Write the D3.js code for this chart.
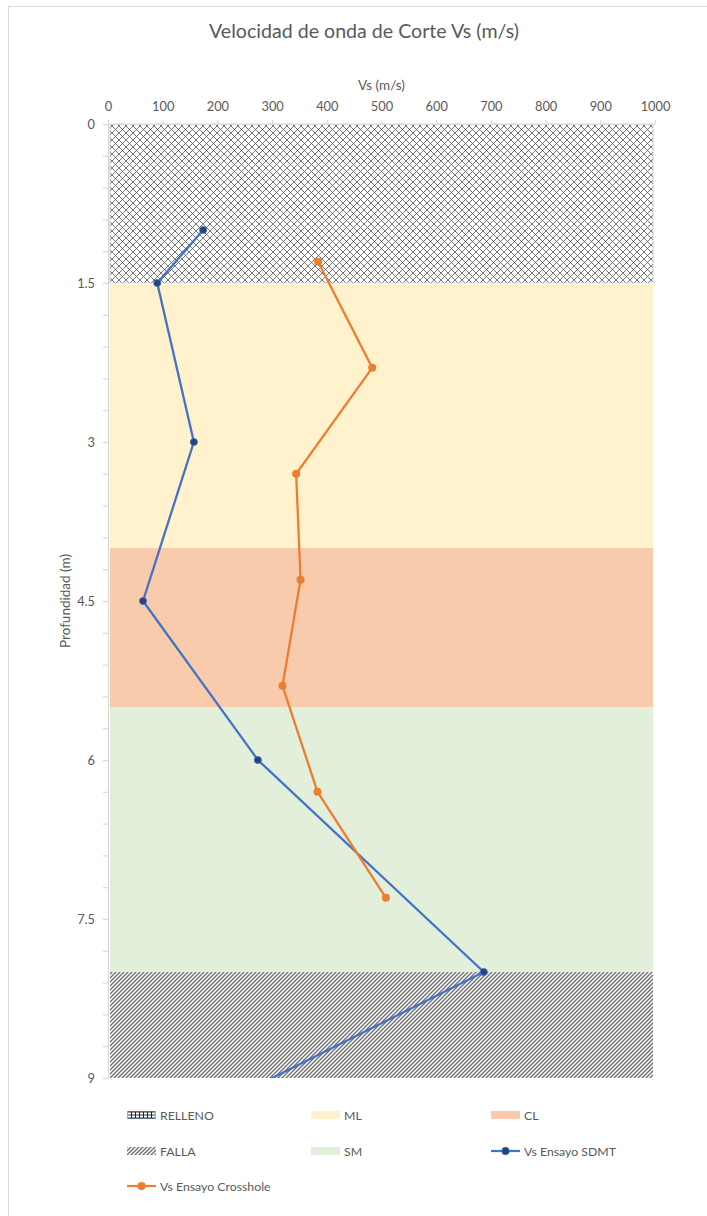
<!DOCTYPE html>
<html><head><meta charset="utf-8">
<script src="https://cdn.jsdelivr.net/npm/d3@7"></script>
<style>
body{margin:0;background:#fff}
svg{display:block}
text{font-family:Lato,'Open Sans',sans-serif;fill:#595959}
</style>
</head><body>
<svg id="chart" width="707" height="1216"></svg>
<script>
// ---- data ----
const layerNames = ["RELLENO", "ML", "CL", "SM", "FALLA"];
const layerTop = [0, 1.5, 4.0, 5.5, 8.0];
const layerBottom = [1.5, 4.0, 5.5, 8.0, 9.0];

const sdmtDepth = [1.0, 1.5, 3.0, 4.5, 6.0, 8.0, 9.5];
const sdmtVs = [174, 90, 157, 64, 274, 687, 107];

const crossDepth = [1.3, 2.3, 3.3, 4.3, 5.3, 6.3, 7.3];
const crossVs = [384, 483, 344, 352, 319, 383, 508];

const xTicks = [0, 100, 200, 300, 400, 500, 600, 700, 800, 900, 1000];
const yTicks = [0, 1.5, 3, 4.5, 6, 7.5, 9];

const titleText = "Velocidad de onda de Corte Vs (m/s)";
const xTitle = "Vs (m/s)";
const yTitle = "Profundidad (m)";
const seriesNames = ["Vs Ensayo SDMT", "Vs Ensayo Crosshole"];

// ---- styles ----
const layerFill = {RELLENO: "url(#pRelleno)", ML: "#FFF2CC", CL: "#F8CBAD", SM: "#E2EFDA", FALLA: "url(#pFalla)"};
const blue = "#4472C4", blueDark = "#264478", orange = "#ED7D31";

const svg = d3.select("#chart");
const W = 707, H = 1216;

// frame
svg.append("rect").attr("x", 8.5).attr("y", 6.5).attr("width", W).attr("height", H)
  .attr("fill", "#fff").attr("stroke", "#D9D9D9");

const defs = svg.append("defs");
const pr = defs.append("pattern").attr("id", "pRelleno").attr("patternUnits", "userSpaceOnUse")
  .attr("width", 7).attr("height", 7);
pr.append("rect").attr("width", 7).attr("height", 7).attr("fill", "#fff");
pr.append("path").attr("d", "M0,0L7,7M7,0L0,7").attr("stroke", "#4a4a4a").attr("stroke-width", 0.75).attr("fill", "none");

const pf = defs.append("pattern").attr("id", "pFalla").attr("patternUnits", "userSpaceOnUse")
  .attr("width", 4).attr("height", 4);
pf.append("rect").attr("width", 4).attr("height", 4).attr("fill", "#fff");
pf.append("path").attr("d", "M-1,1L1,-1M0,4L4,0M3,5L5,3").attr("stroke", "#707070").attr("stroke-width", 1.4);

const pl = defs.append("pattern").attr("id", "pLegRel").attr("patternUnits", "userSpaceOnUse")
  .attr("width", 4).attr("height", 8);
pl.append("rect").attr("width", 4).attr("height", 8).attr("fill", "#fff");
pl.append("path").attr("d", "M0.5,0V8").attr("stroke", "#222").attr("stroke-width", 1);

const x = d3.scaleLinear().domain([0, 1000]).range([108, 655]);
const y = d3.scaleLinear().domain([0, 9]).range([124, 1078]);

defs.append("clipPath").attr("id", "plotClip").append("rect")
  .attr("x", x(0)).attr("y", y(0)).attr("width", x(1000) - x(0)).attr("height", y(9) - y(0));

// layers
svg.append("g").selectAll("rect").data(layerNames).join("rect")
  .attr("x", x(0) + 2).attr("width", x(1000) - x(0) - 4)
  .attr("y", (d, i) => y(layerTop[i]))
  .attr("height", (d, i) => y(layerBottom[i]) - y(layerTop[i]))
  .attr("fill", d => layerFill[d])
  .attr("stroke", d => d === "RELLENO" ? "#B4C7E7" : "none")
  .attr("stroke-width", 0.8);

// axes
const gx = svg.append("g").attr("transform", `translate(0,${y(0)})`)
  .call(d3.axisTop(x).tickValues(xTicks).tickSizeInner(4).tickSizeOuter(0).tickPadding(9).tickFormat(d3.format("d")));
const gy = svg.append("g").attr("transform", `translate(${x(0)},0)`)
  .call(d3.axisLeft(y).tickValues(yTicks).tickSizeInner(5).tickSizeOuter(0).tickPadding(8).tickFormat(d => String(d)));
const gyMinor = svg.append("g").attr("transform", `translate(${x(0)},0)`)
  .call(d3.axisLeft(y).tickValues(d3.range(0, 9.001, 0.3)).tickSize(5).tickFormat(""));
gyMinor.select(".domain").remove();
[gx, gy, gyMinor].forEach(g => {
  g.selectAll(".domain").attr("stroke", "#D9D9D9").attr("stroke-width", 1.2);
  g.selectAll(".tick line").attr("stroke", "#D9D9D9").attr("stroke-width", 1.2);
  g.selectAll(".tick text").attr("fill", "#595959").style("font-size", "12.8px").style("font-family", "Lato,'Open Sans',sans-serif");
});

// titles
svg.append("text").attr("x", 364).attr("y", 38).attr("text-anchor", "middle")
  .style("font-size", "19.6px").text(titleText);
svg.append("text").attr("x", (x(0) + x(1000)) / 2).attr("y", 90).attr("text-anchor", "middle")
  .style("font-size", "13.5px").text(xTitle);
svg.append("text").attr("transform", `translate(70,${(y(0) + y(9)) / 2}) rotate(-90)`)
  .attr("text-anchor", "middle").style("font-size", "13.5px").text(yTitle);

// series
const plot = svg.append("g").attr("clip-path", "url(#plotClip)");
const sdmt = sdmtVs.map((v, i) => [v, sdmtDepth[i]]);
const cross = crossVs.map((v, i) => [v, crossDepth[i]]);
const line = d3.line().x(d => x(d[0])).y(d => y(d[1]));

plot.append("path").datum(sdmt).attr("d", line).attr("fill", "none")
  .attr("stroke", blue).attr("stroke-width", 2.3).attr("stroke-linejoin", "round");
plot.append("g").selectAll("circle").data(sdmt).join("circle")
  .attr("cx", d => x(d[0])).attr("cy", d => y(d[1])).attr("r", 3.6)
  .attr("fill", blueDark).attr("stroke", blue).attr("stroke-width", 0.8);

plot.append("path").datum(cross).attr("d", line).attr("fill", "none")
  .attr("stroke", orange).attr("stroke-width", 2.3).attr("stroke-linejoin", "round");
plot.append("g").selectAll("circle").data(cross).join("circle")
  .attr("cx", d => x(d[0])).attr("cy", d => y(d[1])).attr("r", 4)
  .attr("fill", orange);

// legend
const legendItems = [
  {name: "RELLENO", kind: "rel", col: 0, row: 0},
  {name: "ML", kind: "rect", col: 1, row: 0},
  {name: "CL", kind: "rect", col: 2, row: 0},
  {name: "FALLA", kind: "rect", col: 0, row: 1},
  {name: "SM", kind: "rect", col: 1, row: 1},
  {name: seriesNames[0], kind: "line", color: blue, mk: blueDark, col: 2, row: 1},
  {name: seriesNames[1], kind: "line", color: orange, mk: orange, col: 0, row: 2}
];
const colX = [127, 311, 491], rowY = [1115, 1151, 1186];
const lg = svg.append("g").selectAll("g").data(legendItems).join("g")
  .attr("transform", d => `translate(${colX[d.col]},${rowY[d.row]})`);
lg.each(function(d) {
  const g = d3.select(this);
  if (d.kind === "rect") {
    g.append("rect").attr("x", 0).attr("y", -4).attr("width", 29).attr("height", 8).attr("fill", layerFill[d.name]);
  } else if (d.kind === "rel") {
    g.append("rect").attr("x", 0.5).attr("y", -3.5).attr("width", 28).attr("height", 7)
      .attr("fill", "url(#pLegRel)").attr("stroke", "#8FAADC").attr("stroke-width", 1);
    g.append("path").attr("d", "M1,-3H28M1,0H28M1,3H28").attr("stroke", "#222").attr("stroke-width", 0.9);
  } else {
    g.append("line").attr("x1", 0).attr("x2", 29).attr("y1", 0).attr("y2", 0)
      .attr("stroke", d.color).attr("stroke-width", 2.2);
    g.append("circle").attr("cx", 14.5).attr("cy", 0).attr("r", 3.8).attr("fill", d.mk).attr("stroke", d.color).attr("stroke-width", 0.8);
  }
  g.append("text").attr("x", 33).attr("y", 4.5).style("font-size", "12.3px").text(d.name);
});
</script>
</body></html>
